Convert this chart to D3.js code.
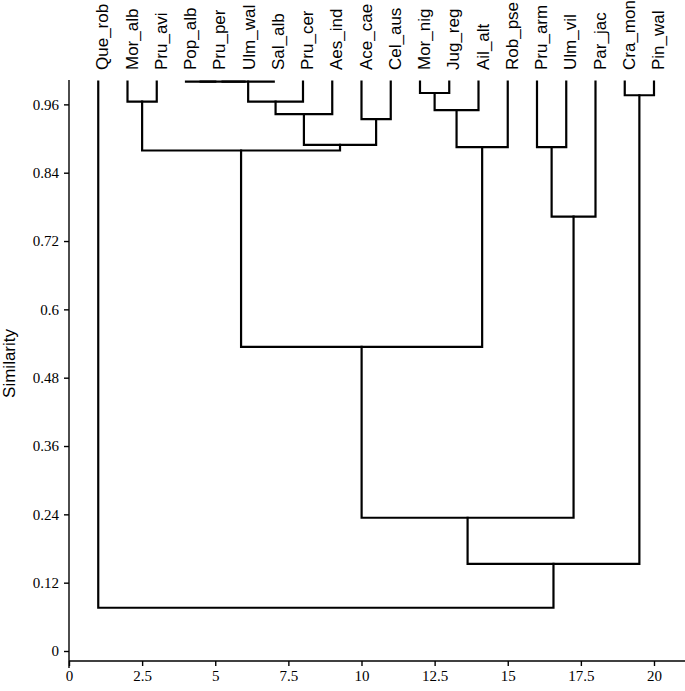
<!DOCTYPE html>
<html><head><meta charset="utf-8">
<script src="https://cdn.jsdelivr.net/npm/d3@7/dist/d3.min.js"></script>
<style>body{margin:0;background:#fff}</style>
</head><body>
<svg id="c" width="685" height="691"></svg>
<script>
// Leaf order (x = 1..20)
const leaves = ["Que_rob","Mor_alb","Pru_avi","Pop_alb","Pru_per","Ulm_wal","Sal_alb","Pru_cer","Aes_ind","Ace_cae",
  "Cel_aus","Mor_nig","Jug_reg","Ail_alt","Rob_pse","Pru_arm","Ulm_vil","Par_jac","Cra_mon","Pin_wal"];
// Merges: [left child, right child]; numbers refer to earlier merges
const mergePairs = [
  ["Mor_alb","Pru_avi"],   // 0
  ["Pop_alb","Pru_per"],   // 1
  [1,"Ulm_wal"],           // 2
  [2,"Sal_alb"],           // 3
  [3,"Pru_cer"],           // 4
  [4,"Aes_ind"],           // 5
  ["Ace_cae","Cel_aus"],   // 6
  [5,6],                   // 7
  [0,7],                   // 8
  ["Mor_nig","Jug_reg"],   // 9
  [9,"Ail_alt"],           // 10
  [10,"Rob_pse"],          // 11
  [8,11],                  // 12
  ["Pru_arm","Ulm_vil"],   // 13
  [13,"Par_jac"],          // 14
  [12,14],                 // 15
  ["Cra_mon","Pin_wal"],   // 16
  [15,16],                 // 17
  ["Que_rob",17]           // 18
];
const mergeSimilarity = [0.965,1.0,1.0,1.0,0.965,0.943,0.934,0.889,0.879,0.980,0.950,0.885,0.534,0.885,0.763,0.234,0.976,0.153,0.076];
const yTicks = [0,0.12,0.24,0.36,0.48,0.6,0.72,0.84,0.96];
const xTicks = [0,2.5,5,7.5,10,12.5,15,17.5,20];
const leafSimilarity = 1.0;

const svg = d3.select("#c");
const x = d3.scaleLinear().domain([0,21.06]).range([69,685]);
const y = d3.scaleLinear().domain([0,1]).range([651,81.6]);
const fmt = d3.format("~g");

// Axes
const yAxis = svg.append("g").attr("transform","translate(69,0)")
  .call(d3.axisLeft(y).tickValues(yTicks).tickFormat(fmt).tickSize(5).tickPadding(5).tickSizeOuter(0));
yAxis.select(".domain").remove();
const xAxis = svg.append("g").attr("transform",`translate(0,${y(-0.0176)})`)
  .call(d3.axisBottom(x).tickValues(xTicks).tickFormat(fmt).tickSize(5).tickPadding(4).tickSizeOuter(0));
xAxis.select(".domain").remove();
svg.selectAll("g").attr("font-family",null).attr("font-size",null);
svg.append("line").attr("x1",x(0)).attr("x2",x(0)).attr("y1",y(1.003)).attr("y2",y(-0.03))
  .attr("stroke","#000").attr("stroke-width",1.4);
svg.append("line").attr("x1",x(0)).attr("x2",x(21.06)).attr("y1",y(-0.0176)).attr("y2",y(-0.0176))
  .attr("stroke","#000").attr("stroke-width",1.4);
svg.selectAll(".tick line").attr("stroke","#000").attr("stroke-width",1.4);
svg.selectAll(".tick text").style("font-family","'Liberation Serif','Times New Roman',serif")
  .style("font-size","15px").attr("fill","#000");

svg.append("text").attr("transform",`translate(15,${y(0.505)}) rotate(-90)`)
  .attr("text-anchor","middle").style("font-family","'Liberation Sans',Arial,sans-serif")
  .style("font-size","17px").text("Similarity");

// Leaf labels
svg.append("g").selectAll("text").data(leaves).join("text")
  .attr("transform",(d,i)=>`translate(${x(i+1)},70) rotate(-90)`)
  .attr("dy","0.6em").attr("text-anchor","start")
  .style("font-family","'Liberation Sans',Arial,sans-serif").style("font-size","17px")
  .text(d=>d);

// Dendrogram
const pos = {}; leaves.forEach((d,i)=>pos[d]={x:i+1,s:leafSimilarity});
const nodes = [];
function get(c){return typeof c==="number"?nodes[c]:pos[c];}
const g = svg.append("g").attr("fill","none").attr("stroke","#000").attr("stroke-width",2.2)
  .attr("stroke-linejoin","miter").attr("stroke-linecap","square");
mergePairs.forEach((p,i)=>{
  const a=get(p[0]), b=get(p[1]), s=mergeSimilarity[i];
  nodes.push({x:(a.x+b.x)/2,s:s});
  g.append("path").attr("d",`M${x(a.x)},${y(a.s)}V${y(s)}H${x(b.x)}V${y(b.s)}`);
});
</script>
</body></html>
